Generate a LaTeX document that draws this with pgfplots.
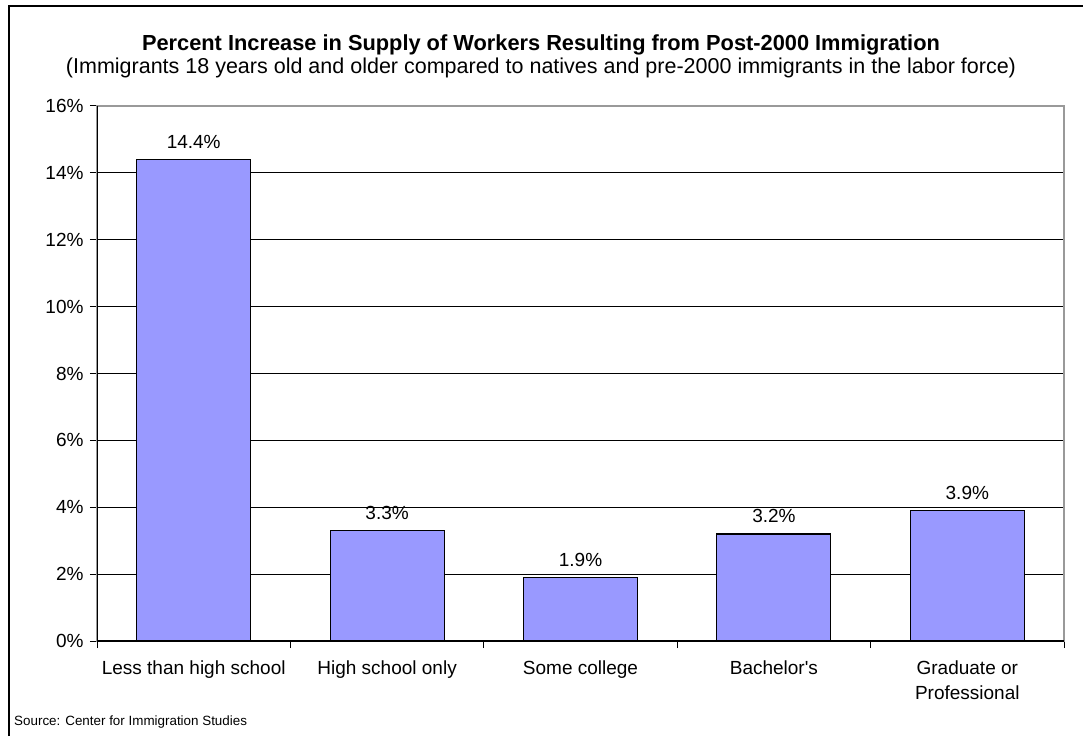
\documentclass[border=0pt]{standalone}
\usepackage{pgfplots}
\pgfplotsset{compat=1.18}
\usepackage{fontspec}
\setmainfont{Liberation Sans}
\definecolor{barblue}{HTML}{9999FF}
\begin{document}
\begin{tikzpicture}[x=1pt,y=1pt]
\path[use as bounding box] (0,0) rectangle (1083,736);
\draw[line width=1.3pt] (9,0) -- (9,730) -- (1083,730);
\node[font=\fontsize{21.8}{26}\selectfont\bfseries] at (541,691) {Percent Increase in Supply of Workers Resulting from Post-2000 Immigration};
\node[font=\fontsize{21.5}{26}\selectfont] at (541,668) {(Immigrants 18 years old and older compared to natives and pre-2000 immigrants in the labor force)};
\node[font=\fontsize{13.4}{16}\selectfont, anchor=west, inner sep=0pt] at (14,14) {Source: Center for Immigration Studies};
\begin{axis}[
  at={(97pt,95pt)}, anchor=south west,
  scale only axis, width=967pt, height=535pt,
  xmin=-0.5, xmax=4.5, ymin=0, ymax=16,
  /pgf/number format/assume math mode=true,
  ytick={0,2,...,16},
  yticklabels={0\%,2\%,4\%,6\%,8\%,10\%,12\%,14\%,16\%},
  xtick={0,1,2,3,4},
  xticklabels={Less than high school, High school only, Some college, Bachelor\textquotesingle s, {Graduate or\\Professional}},
  xticklabel style={align=center, font=\fontsize{19}{25}\selectfont, yshift=-9pt},
  yticklabel style={font=\fontsize{19}{23}\selectfont, xshift=-3pt},
  xtick pos=bottom, ytick pos=left,
  minor xtick={-0.5,0.5,...,4.5},
  tick align=outside,
  major tick length=7pt,
  minor tick length=7pt,
  major x tick style={draw=none},
  minor x tick style={black, line width=1pt},
  major y tick style={black, line width=1pt},
  ymajorgrids,
  major grid style={black, line width=0.9pt},
  axis line style={draw=gray!80, line width=1.4pt},
  ybar, bar width=114pt,
  nodes near coords={\pgfmathprintnumber[fixed,precision=1,fixed zerofill]{\pgfplotspointmeta}\%},
  nodes near coords style={font=\fontsize{19}{23}\selectfont, anchor=south, yshift=7pt},
]
\addplot[fill=barblue, draw=black, line width=1.1pt] coordinates {(0,14.4) (1,3.3) (2,1.9) (3,3.2) (4,3.9)};
\draw[black, line width=1.2pt] (rel axis cs:0,1) -- (rel axis cs:0,0) -- (rel axis cs:1,0);
\end{axis}
\end{tikzpicture}
\end{document}
